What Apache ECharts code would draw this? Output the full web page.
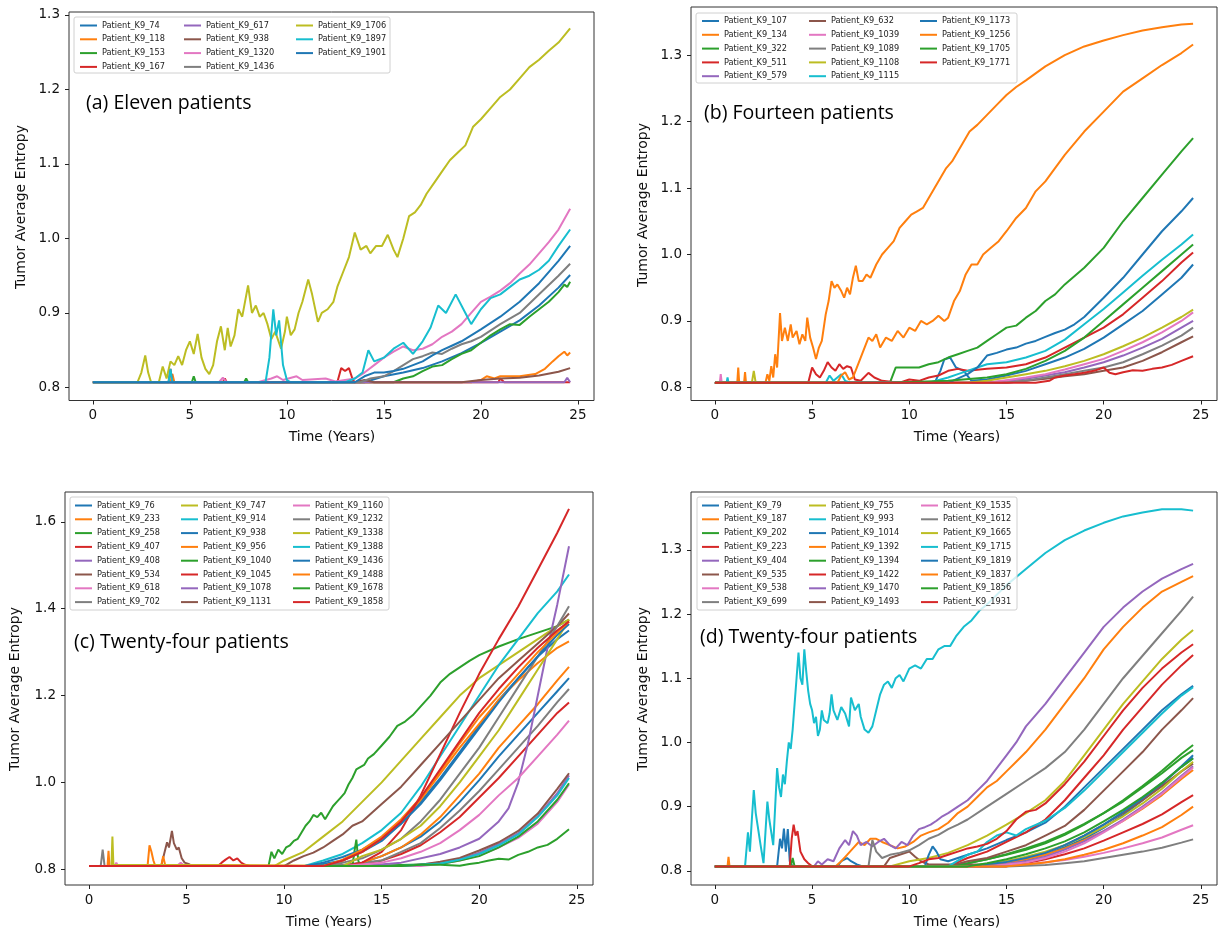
<!DOCTYPE html>
<html>
<head>
<meta charset="utf-8">
<script src="https://cdn.jsdelivr.net/npm/echarts@6/dist/echarts.min.js"></script>
<style>
  html, body { margin: 0; padding: 0; background: #fff; }
  #chart { width: 1219px; height: 931px; }
</style>
</head>
<body>
<div id="chart"></div>
<script>
// ---- data: [time (years), tumor average entropy] ----

// (a) Eleven patients
const namesA = ['Patient_K9_74','Patient_K9_118','Patient_K9_153','Patient_K9_167','Patient_K9_617','Patient_K9_938','Patient_K9_1320','Patient_K9_1436','Patient_K9_1706','Patient_K9_1897','Patient_K9_1901']
const a74 = [[0,.807],[14,.807],[15,.815],[16,.82],[17,.826],[18,.835],[19,.846],[20,.86],[21,.875],[22,.89],[23,.91],[24,.934],[24.6,.951]]
const a118 = [[0,.807],[4.0,.807],[4.1,.818],[4.2,.807],[19.5,.807],[20,.81],[20.3,.815],[20.7,.812],[21,.815],[22,.815],[22.8,.818],[23.3,.825],[23.7,.835],[24,.842],[24.3,.848],[24.45,.843],[24.6,.847]]
const a153 = [[0,.807],[5.1,.807],[5.2,.815],[5.3,.807],[7.8,.807],[7.9,.812],[8.0,.807],[15.5,.807],[16,.812],[16.5,.815],[17,.822],[17.5,.828],[18,.83],[18.5,.838],[19,.845],[19.5,.85],[20,.86],[20.5,.87],[21,.878],[21.5,.885],[22,.884],[22.5,.895],[23,.905],[23.5,.915],[24,.928],[24.3,.938],[24.45,.935],[24.6,.942]]
const a167 = [[0,.807],[3.9,.807],[4.0,.825],[4.1,.807],[6.7,.807],[6.8,.812],[6.9,.807],[12.6,.807],[12.8,.826],[13.0,.822],[13.2,.826],[13.4,.81],[13.5,.807],[20.9,.807],[21,.812],[21.2,.807],[24.6,.807]]
const a617 = [[0,.807],[24.3,.807],[24.45,.813],[24.6,.807]]
const a938 = [[0,.807],[13.5,.807],[14,.81],[14.5,.807],[19,.807],[20,.81],[21,.812],[22,.813],[23,.816],[24,.821],[24.6,.826]]
const a1320 = [[0,.807],[6.5,.807],[6.7,.813],[6.9,.807],[8.5,.807],[9.2,.812],[9.5,.815],[9.8,.81],[10.5,.815],[10.8,.81],[12,.812],[12.5,.808],[13.5,.812],[14,.82],[14.5,.83],[15,.84],[15.5,.848],[16,.855],[16.5,.85],[17,.852],[17.5,.858],[18,.868],[18.5,.875],[19,.885],[19.5,.9],[20,.915],[20.5,.922],[21,.93],[21.5,.94],[22,.953],[22.5,.965],[23,.98],[23.5,.995],[24,1.012],[24.6,1.04]]
const a1436 = [[0,.807],[13.8,.807],[14.3,.812],[15,.815],[15.5,.822],[16,.83],[16.5,.838],[17,.842],[17.5,.847],[18,.845],[18.5,.852],[19,.858],[19.5,.862],[20,.868],[21,.885],[22,.9],[23,.925],[24,.95],[24.6,.966]]
const a1706 = [[0,.807],[2.3,.807],[2.5,.82],[2.7,.843],[2.85,.82],[3.0,.807],[3.4,.807],[3.6,.828],[3.8,.812],[4.0,.835],[4.2,.83],[4.4,.842],[4.6,.83],[4.8,.85],[5.0,.862],[5.2,.845],[5.4,.872],[5.6,.84],[5.8,.825],[6.0,.818],[6.2,.83],[6.4,.862],[6.6,.882],[6.8,.85],[6.95,.88],[7.1,.855],[7.3,.87],[7.5,.905],[7.7,.895],[8.0,.937],[8.2,.9],[8.4,.91],[8.6,.895],[8.8,.9],[9.0,.885],[9.2,.865],[9.4,.875],[9.7,.852],[9.9,.875],[10.0,.895],[10.2,.87],[10.4,.878],[10.6,.9],[10.8,.915],[11.1,.945],[11.3,.925],[11.6,.888],[11.8,.9],[12.1,.905],[12.4,.915],[12.6,.935],[12.9,.955],[13.2,.975],[13.5,1.008],[13.8,.985],[14.1,.99],[14.3,.98],[14.6,.99],[14.9,.99],[15.2,1.005],[15.5,.985],[15.7,.975],[16.0,1.0],[16.3,1.03],[16.6,1.035],[16.9,1.045],[17.2,1.06],[17.6,1.075],[18.0,1.09],[18.4,1.105],[18.8,1.115],[19.2,1.125],[19.6,1.15],[20.0,1.16],[20.5,1.175],[21.0,1.19],[21.5,1.2],[22.0,1.215],[22.5,1.23],[23.0,1.24],[23.5,1.252],[24.0,1.263],[24.6,1.282]]
const a1897 = [[0,.807],[3.9,.807],[4.0,.825],[4.1,.807],[8.9,.807],[9.1,.84],[9.3,.905],[9.45,.87],[9.6,.89],[9.8,.83],[10,.81],[10.2,.807],[13,.807],[13.5,.812],[13.9,.82],[14.2,.85],[14.5,.835],[15,.84],[15.5,.852],[16,.86],[16.5,.845],[17,.862],[17.4,.88],[17.8,.91],[18.2,.9],[18.7,.925],[19.2,.9],[19.5,.885],[20,.905],[20.5,.92],[21,.925],[21.5,.935],[22,.945],[22.5,.95],[23,.958],[23.5,.97],[24,.99],[24.6,1.012]]
const a1901 = [[0,.807],[13.5,.807],[14,.815],[14.5,.82],[15,.82],[15.5,.822],[16,.825],[16.5,.83],[17,.835],[17.5,.843],[18,.85],[18.5,.856],[19,.862],[19.5,.87],[20,.878],[21,.895],[22,.915],[23,.94],[24,.97],[24.6,.99]]

// (b) Fourteen patients
const namesB = ['Patient_K9_107','Patient_K9_134','Patient_K9_322','Patient_K9_511','Patient_K9_579','Patient_K9_632','Patient_K9_1039','Patient_K9_1089','Patient_K9_1108','Patient_K9_1115','Patient_K9_1173','Patient_K9_1256','Patient_K9_1705','Patient_K9_1771']
const b107 = [[0,.807],[11.3,.807],[11.6,.825],[11.8,.842],[12.1,.845],[12.4,.83],[12.8,.825],[13.2,.81],[14,.812],[15,.818],[16,.825],[17,.835],[18,.845],[19,.858],[20,.875],[21,.895],[22,.915],[23,.94],[24,.965],[24.6,.985]]
const b134 = [[0,.807],[1.15,.807],[1.2,.83],[1.25,.807],[1.5,.807],[1.55,.823],[1.6,.807],[2.6,.807],[2.7,.82],[2.8,.81],[2.9,.832],[3.0,.815],[3.1,.85],[3.2,.83],[3.35,.912],[3.45,.87],[3.6,.89],[3.75,.87],[3.9,.895],[4.0,.875],[4.2,.885],[4.35,.865],[4.5,.88],[4.65,.87],[4.75,.905],[4.9,.875],[5.05,.86],[5.2,.843],[5.35,.86],[5.5,.87],[5.7,.91],[5.85,.93],[6.0,.96],[6.15,.95],[6.3,.955],[6.5,.945],[6.65,.935],[6.8,.95],[6.95,.94],[7.1,.965],[7.25,.983],[7.4,.96],[7.6,.96],[7.8,.97],[8.0,.965],[8.3,.985],[8.6,1.0],[8.9,1.01],[9.2,1.02],[9.5,1.04],[9.8,1.05],[10.1,1.06],[10.4,1.065],[10.7,1.07],[11.0,1.085],[11.3,1.1],[11.6,1.115],[11.9,1.13],[12.2,1.14],[12.5,1.155],[12.8,1.17],[13.1,1.185],[13.5,1.195],[14,1.21],[14.5,1.225],[15,1.24],[15.5,1.252],[16,1.262],[17,1.283],[18,1.3],[19,1.313],[20,1.322],[21,1.33],[22,1.337],[23,1.342],[24,1.346],[24.6,1.347]]
const b322 = [[0,.807],[9.0,.807],[9.3,.83],[9.6,.83],[10,.83],[10.5,.83],[11,.835],[11.5,.838],[12,.845],[12.5,.85],[13,.855],[13.5,.86],[14,.87],[14.5,.88],[15,.89],[15.5,.893],[16,.905],[16.5,.915],[17,.93],[17.5,.94],[18,.955],[19,.98],[20,1.01],[21,1.05],[22,1.085],[23,1.12],[24,1.155],[24.6,1.175]]
const b511 = [[0,.807],[4.8,.807],[5.0,.83],[5.2,.82],[5.4,.815],[5.6,.825],[5.8,.838],[6.0,.83],[6.2,.825],[6.4,.835],[6.6,.828],[6.8,.832],[7.0,.83],[7.2,.812],[7.5,.81],[7.9,.822],[8.2,.815],[8.6,.81],[9.5,.807],[10,.812],[10.5,.81],[11,.815],[11.5,.818],[12,.825],[12.5,.828],[13,.825],[14,.828],[15,.83],[16,.835],[17,.845],[18,.86],[19,.875],[20,.89],[21,.91],[22,.935],[23,.96],[24,.988],[24.6,1.003]]
const b579 = [[0,.807],[14,.807],[15,.81],[16,.813],[17,.818],[18,.823],[19,.83],[20,.838],[21,.848],[22,.86],[23,.873],[24,.89],[24.6,.9]]
const b632 = [[0,.807],[15,.807],[16,.81],[17,.813],[18,.817],[19,.82],[20,.825],[21,.83],[22,.84],[23,.853],[24,.868],[24.6,.877]]
const b1039 = [[0,.807],[0.25,.807],[0.3,.82],[0.35,.807],[14,.807],[15,.811],[16,.815],[17,.82],[18,.827],[19,.835],[20,.843],[21,.855],[22,.868],[23,.883],[24,.9],[24.6,.913]]
const b1089 = [[0,.807],[15,.807],[16,.81],[17,.815],[18,.82],[19,.825],[20,.83],[21,.838],[22,.85],[23,.863],[24,.878],[24.6,.89]]
const b1108 = [[0,.807],[1.9,.807],[2.0,.825],[2.1,.807],[13,.807],[14,.81],[15,.815],[16,.82],[17,.825],[18,.832],[19,.84],[20,.85],[21,.862],[22,.875],[23,.89],[24,.906],[24.6,.917]]
const b1115 = [[0,.807],[0.6,.807],[0.65,.815],[0.7,.807],[5.7,.807],[5.9,.818],[6.1,.81],[6.5,.82],[6.7,.81],[7,.807],[11,.807],[12,.815],[12.5,.82],[13,.825],[13.5,.83],[14,.835],[15,.838],[16,.845],[17,.855],[18,.872],[19,.895],[20,.918],[21,.943],[22,.968],[23,.992],[24,1.015],[24.6,1.03]]
const b1173 = [[0,.807],[12,.807],[13,.82],[13.5,.83],[14,.848],[14.5,.852],[15,.857],[15.5,.86],[16,.866],[16.5,.87],[17,.876],[17.5,.882],[18,.887],[18.5,.895],[19,.906],[20,.935],[21,.965],[22,1.0],[23,1.035],[24,1.065],[24.6,1.085]]
const b1256 = [[0,.807],[6.3,.807],[6.5,.818],[6.7,.823],[6.9,.812],[7.1,.815],[7.3,.83],[7.5,.845],[7.7,.86],[7.9,.875],[8.1,.87],[8.3,.88],[8.5,.86],[8.8,.875],[9.1,.87],[9.4,.885],[9.7,.875],[10,.89],[10.3,.885],[10.6,.9],[10.9,.895],[11.2,.9],[11.5,.908],[11.8,.9],[12.0,.905],[12.3,.93],[12.6,.945],[12.9,.97],[13.2,.985],[13.5,.985],[13.8,1.0],[14.2,1.01],[14.6,1.02],[15.0,1.035],[15.5,1.055],[16,1.07],[16.5,1.095],[17,1.11],[17.5,1.13],[18,1.15],[19,1.185],[20,1.215],[21,1.245],[22,1.265],[23,1.285],[24,1.303],[24.6,1.316]]
const b1705 = [[0,.807],[9,.807],[12,.81],[14,.815],[15,.82],[16,.828],[17,.84],[18,.855],[19,.875],[20,.9],[21,.925],[22,.95],[23,.975],[24,1.0],[24.6,1.015]]
const b1771 = [[0,.807],[16.5,.807],[17.2,.81],[17.5,.815],[18,.818],[18.5,.82],[19,.822],[19.5,.825],[20,.83],[20.3,.822],[20.6,.82],[21,.823],[21.5,.826],[22,.825],[22.5,.828],[23,.83],[23.5,.834],[24,.84],[24.6,.847]]

// (c) Twenty-four patients
const namesC = ['Patient_K9_76','Patient_K9_233','Patient_K9_258','Patient_K9_407','Patient_K9_408','Patient_K9_534','Patient_K9_618','Patient_K9_702','Patient_K9_747','Patient_K9_914','Patient_K9_938','Patient_K9_956','Patient_K9_1040','Patient_K9_1045','Patient_K9_1078','Patient_K9_1131','Patient_K9_1160','Patient_K9_1232','Patient_K9_1338','Patient_K9_1388','Patient_K9_1436','Patient_K9_1488','Patient_K9_1678','Patient_K9_1858']
const c76 = [[0,.807],[11,.807],[12,.812],[13,.82],[14,.84],[15,.865],[16,.905],[17,.955],[18,1.01],[19,1.07],[20,1.13],[21,1.19],[22,1.24],[23,1.29],[24,1.33],[24.6,1.35]]
const c233 = [[0,.807],[0.95,.807],[1.0,.842],[1.05,.807],[12,.807],[13,.82],[14,.84],[15,.87],[16,.91],[17,.96],[18,1.02],[19,1.08],[20,1.135],[21,1.19],[22,1.235],[23,1.275],[24,1.31],[24.6,1.325]]
const c258 = [[0,.807],[9.2,.807],[9.35,.84],[9.5,.825],[9.7,.845],[9.9,.835],[10.1,.85],[10.3,.855],[10.5,.865],[10.7,.87],[10.9,.885],[11.1,.9],[11.3,.91],[11.5,.925],[11.7,.92],[11.9,.93],[12.1,.915],[12.3,.93],[12.5,.945],[12.7,.955],[12.9,.965],[13.1,.975],[13.3,.995],[13.5,1.01],[13.7,1.03],[13.9,1.035],[14.1,1.04],[14.3,1.055],[14.6,1.065],[15.0,1.085],[15.4,1.105],[15.8,1.13],[16.2,1.14],[16.6,1.155],[17,1.175],[17.5,1.2],[18,1.23],[18.5,1.25],[19,1.265],[19.5,1.28],[20,1.293],[21,1.313],[22,1.33],[23,1.345],[24,1.36],[24.6,1.375]]
const c407 = [[0,.807],[6.6,.807],[6.8,.815],[7.0,.822],[7.2,.828],[7.4,.82],[7.6,.825],[7.8,.815],[8.0,.81],[8.3,.807],[13,.807],[14,.812],[15,.82],[16,.835],[17,.855],[18,.885],[19,.92],[20,.965],[21,1.01],[22,1.06],[23,1.11],[24,1.16],[24.6,1.184]]
const c408 = [[0,.807],[16,.807],[18,.815],[19,.823],[20,.838],[21,.858],[22,.883],[23,.922],[24,.975],[24.6,1.016]]
const c534 = [[0,.807],[3.7,.807],[3.85,.835],[4.0,.862],[4.1,.85],[4.25,.888],[4.35,.86],[4.5,.845],[4.6,.85],[4.75,.825],[4.9,.815],[5.1,.812],[5.3,.807],[16,.807],[17,.81],[18,.817],[19,.826],[20,.843],[21,.862],[22,.888],[23,.928],[24,.985],[24.6,1.021]]
const c618 = [[0,.807],[1.3,.807],[1.4,.815],[1.5,.807],[4.5,.807],[4.7,.815],[4.9,.807],[17,.807],[18,.812],[19,.82],[20,.832],[21,.85],[22,.872],[23,.905],[24,.955],[24.6,.995]]
const c702 = [[0,.807],[0.6,.807],[0.7,.845],[0.8,.807],[12,.807],[13,.81],[14,.815],[15,.82],[16,.84],[17,.86],[18,.895],[19,.935],[20,.98],[21,1.03],[22,1.08],[23,1.13],[24,1.185],[24.6,1.215]]
const c747 = [[0,.807],[9.5,.807],[10,.82],[11,.84],[12,.875],[13,.91],[14,.955],[15,1.0],[16,1.05],[17,1.1],[18,1.15],[19,1.2],[20,1.24],[21,1.27],[22,1.3],[23,1.33],[24,1.36],[24.6,1.375]]
const c914 = [[0,.807],[11,.807],[12,.82],[13,.835],[14,.86],[15,.89],[16,.93],[17,.99],[18,1.06],[19,1.13],[20,1.2],[21,1.27],[22,1.33],[23,1.39],[24,1.44],[24.6,1.479]]
const c938 = [[0,.807],[13,.807],[14,.815],[15,.83],[16,.85],[17,.875],[18,.91],[19,.955],[20,1.005],[21,1.06],[22,1.11],[23,1.16],[24,1.21],[24.6,1.24]]
const c956 = [[0,.807],[3.0,.807],[3.1,.855],[3.2,.84],[3.3,.82],[3.4,.807],[3.7,.807],[3.8,.83],[3.9,.81],[4.0,.807],[13,.807],[14,.815],[15,.83],[16,.85],[17,.88],[18,.92],[19,.97],[20,1.02],[21,1.08],[22,1.13],[23,1.18],[24,1.235],[24.6,1.266]]
const c1040 = [[0,.807],[13.5,.807],[13.6,.84],[13.7,.868],[13.8,.82],[13.9,.807],[18,.812],[19,.82],[20,.83],[21,.85],[22,.875],[23,.91],[24,.96],[24.6,.998]]
const c1045 = [[0,.807],[13,.807],[14,.815],[15,.84],[16,.89],[17,.97],[18,1.065],[19,1.16],[20,1.25],[21,1.33],[22,1.405],[23,1.49],[24,1.575],[24.6,1.63]]
const c1078 = [[0,.807],[14,.807],[16,.815],[18,.835],[19,.85],[20,.87],[21,.91],[21.5,.94],[22,1.0],[22.5,1.09],[23,1.2],[23.5,1.31],[24,1.41],[24.6,1.544]]
const c1131 = [[0,.807],[10,.807],[10.5,.82],[11,.83],[11.5,.838],[12,.85],[12.5,.865],[13,.88],[13.5,.9],[14,.91],[14.5,.93],[15,.95],[16,.99],[17,1.04],[18,1.09],[19,1.14],[20,1.19],[21,1.24],[22,1.28],[23,1.32],[24,1.36],[24.6,1.389]]
const c1160 = [[0,.807],[13,.807],[15,.815],[16,.825],[17,.84],[18,.86],[19,.89],[20,.925],[21,.97],[22,1.01],[23,1.06],[24,1.11],[24.6,1.142]]
const c1232 = [[0,.807],[12,.807],[13,.815],[14,.825],[15,.845],[16,.87],[17,.91],[18,.96],[19,1.02],[20,1.08],[21,1.15],[22,1.22],[23,1.29],[24,1.36],[24.6,1.406]]
const c1338 = [[0,.807],[1.15,.807],[1.2,.875],[1.25,.81],[1.3,.807],[13,.807],[14,.83],[15,.845],[16,.87],[17,.9],[18,.945],[19,1.0],[20,1.06],[21,1.12],[22,1.19],[23,1.26],[24,1.33],[24.6,1.375]]
const c1388 = [[0,.807],[16,.807],[18,.813],[19,.822],[20,.835],[21,.855],[22,.88],[23,.92],[24,.97],[24.6,1.01]]
const c1436 = [[0,.807],[11,.807],[12,.815],[13,.828],[14,.845],[15,.87],[16,.905],[17,.95],[18,1.005],[19,1.065],[20,1.125],[21,1.185],[22,1.24],[23,1.29],[24,1.34],[24.6,1.365]]
const c1488 = [[0,.807],[12,.807],[13,.822],[14,.845],[15,.875],[16,.915],[17,.965],[18,1.025],[19,1.09],[20,1.15],[21,1.2],[22,1.25],[23,1.3],[24,1.345],[24.6,1.37]]
const c1678 = [[0,.807],[16,.807],[17,.81],[18,.81],[19,.808],[19.5,.812],[20,.815],[20.5,.82],[21,.824],[21.5,.822],[22,.833],[22.5,.84],[23,.85],[23.5,.856],[24,.87],[24.6,.892]]
const c1858 = [[0,.807],[12,.807],[13,.82],[14,.84],[15,.87],[16,.91],[17,.965],[18,1.03],[19,1.095],[20,1.16],[21,1.215],[22,1.265],[23,1.31],[24,1.35],[24.6,1.371]]

// (d) Twenty-four patients
const namesD = ['Patient_K9_79','Patient_K9_187','Patient_K9_202','Patient_K9_223','Patient_K9_404','Patient_K9_535','Patient_K9_538','Patient_K9_699','Patient_K9_755','Patient_K9_993','Patient_K9_1014','Patient_K9_1392','Patient_K9_1394','Patient_K9_1422','Patient_K9_1470','Patient_K9_1493','Patient_K9_1535','Patient_K9_1612','Patient_K9_1665','Patient_K9_1715','Patient_K9_1819','Patient_K9_1837','Patient_K9_1856','Patient_K9_1931']
const d79 = [[0,.807],[3.2,.807],[3.35,.85],[3.45,.835],[3.55,.866],[3.65,.83],[3.75,.865],[3.85,.815],[4.0,.807],[6.3,.807],[6.5,.815],[6.8,.82],[7.0,.815],[7.3,.81],[7.6,.807],[13,.807],[15,.812],[16,.817],[17,.825],[18,.837],[19,.85],[20,.867],[21,.887],[22,.91],[23,.935],[24,.963],[24.6,.98]]
const d187 = [[0,.807],[0.65,.807],[0.7,.822],[0.75,.807],[6.2,.807],[6.5,.815],[6.8,.825],[7.1,.835],[7.4,.845],[7.7,.84],[8.0,.85],[8.3,.85],[8.6,.845],[9,.84],[9.4,.835],[9.8,.838],[10.2,.845],[10.6,.855],[11,.86],[11.5,.865],[12,.875],[12.5,.89],[13,.9],[13.5,.915],[14,.93],[14.5,.94],[15,.955],[15.5,.97],[16,.985],[17,1.02],[18,1.06],[19,1.1],[20,1.145],[21,1.18],[22,1.21],[23,1.235],[24,1.25],[24.6,1.259]]
const d202 = [[0,.807],[3.9,.807],[4.0,.82],[4.1,.807],[12,.807],[13,.812],[14,.818],[15,.825],[16,.833],[17,.843],[18,.856],[19,.872],[20,.89],[21,.91],[22,.932],[23,.956],[24,.982],[24.6,.996]]
const d223 = [[0,.807],[3.85,.807],[3.95,.85],[4.05,.872],[4.15,.855],[4.25,.862],[4.4,.83],[4.6,.818],[4.8,.812],[5.0,.807],[15,.807],[16,.812],[17,.818],[18,.826],[19,.835],[20,.847],[21,.86],[22,.873],[23,.888],[24,.907],[24.6,.918]]
const d404 = [[0,.807],[5.1,.807],[5.3,.815],[5.5,.81],[5.8,.818],[6.1,.815],[6.4,.835],[6.7,.848],[6.9,.84],[7.1,.862],[7.3,.855],[7.5,.84],[7.8,.845],[8.1,.838],[8.4,.845],[8.7,.85],[9.0,.84],[9.3,.835],[9.6,.845],[9.9,.84],[10.2,.855],[10.5,.865],[10.8,.868],[11.1,.872],[11.4,.878],[11.7,.885],[12,.89],[12.5,.9],[13,.91],[13.5,.925],[14,.94],[14.5,.96],[15,.98],[15.5,1.0],[16,1.025],[17,1.06],[18,1.1],[19,1.14],[20,1.18],[21,1.21],[22,1.235],[23,1.255],[24,1.27],[24.6,1.278]]
const d535 = [[0,.807],[8.7,.807],[9.0,.82],[9.5,.825],[10,.83],[10.3,.822],[10.6,.815],[11,.81],[14,.81],[16,.82],[17,.828],[18,.84],[19,.855],[20,.872],[21,.89],[22,.91],[23,.932],[24,.955],[24.6,.967]]
const d538 = [[0,.807],[14,.807],[16,.81],[18,.817],[19,.822],[20,.828],[21,.835],[22,.843],[23,.852],[24,.864],[24.6,.871]]
const d699 = [[0,.807],[7.9,.807],[8.1,.848],[8.3,.83],[8.6,.82],[9,.825],[9.5,.828],[10,.832],[10.5,.84],[11,.85],[11.5,.856],[12,.865],[12.5,.872],[13,.88],[14,.9],[15,.92],[16,.94],[17,.96],[18,.985],[19,1.02],[20,1.06],[21,1.1],[22,1.135],[23,1.17],[24,1.205],[24.6,1.227]]
const d755 = [[0,.807],[9,.807],[10,.815],[11,.82],[12,.828],[13,.84],[14,.855],[15,.872],[16,.89],[17,.91],[18,.94],[19,.98],[20,1.02],[21,1.06],[22,1.095],[23,1.13],[24,1.16],[24.6,1.175]]
const d993 = [[0,.807],[1.55,.807],[1.7,.86],[1.8,.83],[1.9,.88],[2.0,.926],[2.1,.89],[2.2,.87],[2.35,.84],[2.5,.812],[2.6,.86],[2.7,.908],[2.8,.88],[2.9,.86],[3.0,.84],[3.1,.9],[3.2,.96],[3.3,.93],[3.4,.915],[3.5,.95],[3.6,.935],[3.7,.97],[3.8,1.0],[3.9,.99],[4.0,1.02],[4.1,1.06],[4.2,1.1],[4.3,1.14],[4.4,1.1],[4.5,1.09],[4.6,1.145],[4.7,1.11],[4.8,1.08],[4.9,1.06],[5.0,1.05],[5.1,1.03],[5.2,1.04],[5.3,1.01],[5.4,1.02],[5.5,1.05],[5.6,1.035],[5.8,1.03],[5.9,1.045],[6.0,1.075],[6.1,1.05],[6.3,1.035],[6.5,1.055],[6.7,1.045],[6.9,1.025],[7.0,1.07],[7.2,1.05],[7.4,1.06],[7.5,1.04],[7.7,1.02],[7.9,1.015],[8.1,1.025],[8.3,1.05],[8.5,1.075],[8.7,1.09],[8.9,1.095],[9.1,1.085],[9.3,1.1],[9.5,1.105],[9.7,1.095],[10.0,1.115],[10.3,1.12],[10.6,1.115],[10.9,1.13],[11.2,1.13],[11.5,1.145],[11.8,1.15],[12.1,1.15],[12.4,1.165],[12.8,1.18],[13.2,1.19],[13.6,1.205],[14,1.215],[14.5,1.23],[15,1.245],[16,1.27],[17,1.295],[18,1.315],[19,1.33],[20,1.342],[21,1.352],[22,1.358],[23,1.363],[24,1.363],[24.6,1.361]]
const d1014 = [[0,.807],[10.8,.807],[11.0,.825],[11.2,.838],[11.4,.83],[11.6,.818],[12,.815],[13,.825],[14,.835],[15,.848],[16,.86],[17,.875],[18,.9],[19,.93],[20,.96],[21,.99],[22,1.02],[23,1.05],[24,1.075],[24.6,1.088]]
const d1392 = [[0,.807],[13,.807],[15,.812],[16,.818],[17,.825],[18,.835],[19,.848],[20,.862],[21,.878],[22,.897],[23,.918],[24,.943],[24.6,.957]]
const d1394 = [[0,.807],[12,.807],[13,.812],[14,.818],[15,.826],[16,.835],[17,.845],[18,.858],[19,.873],[20,.89],[21,.908],[22,.93],[23,.952],[24,.976],[24.6,.988]]
const d1422 = [[0,.807],[12,.807],[13,.82],[14,.83],[15,.845],[16,.86],[17,.88],[18,.91],[19,.945],[20,.98],[21,1.02],[22,1.055],[23,1.09],[24,1.12],[24.6,1.136]]
const d1470 = [[0,.807],[14,.807],[16,.815],[17,.822],[18,.833],[19,.846],[20,.862],[21,.88],[22,.9],[23,.922],[24,.948],[24.6,.963]]
const d1493 = [[0,.807],[12,.807],[13,.815],[14,.82],[15,.83],[16,.84],[17,.855],[18,.87],[19,.895],[20,.925],[21,.955],[22,.985],[23,1.02],[24,1.05],[24.6,1.069]]
const d1535 = [[0,.807],[14,.807],[16,.813],[17,.82],[18,.83],[19,.843],[20,.86],[21,.878],[22,.898],[23,.92],[24,.946],[24.6,.961]]
const d1612 = [[0,.807],[15,.807],[17,.809],[18,.812],[19,.815],[20,.82],[21,.825],[22,.83],[23,.836],[24,.844],[24.6,.849]]
const d1665 = [[0,.807],[13,.807],[15,.815],[16,.822],[17,.83],[18,.84],[19,.853],[20,.868],[21,.885],[22,.905],[23,.928],[24,.955],[24.6,.97]]
const d1715 = [[0,.807],[12,.807],[13,.825],[13.5,.83],[14,.845],[14.5,.855],[15,.86],[15.5,.855],[16,.865],[17,.878],[18,.898],[19,.925],[20,.955],[21,.985],[22,1.015],[23,1.045],[24,1.073],[24.6,1.086]]
const d1819 = [[0,.807],[13,.807],[15,.814],[16,.82],[17,.828],[18,.84],[19,.855],[20,.872],[21,.892],[22,.913],[23,.937],[24,.962],[24.6,.976]]
const d1837 = [[0,.807],[15,.807],[16,.81],[17,.813],[18,.818],[19,.825],[20,.833],[21,.843],[22,.855],[23,.868],[24,.887],[24.6,.9]]
const d1856 = [[0,.807],[13,.807],[14,.812],[15,.818],[16,.826],[17,.835],[18,.846],[19,.86],[20,.877],[21,.895],[22,.915],[23,.937],[24,.962],[24.6,.975]]
const d1931 = [[0,.807],[10,.807],[10.5,.812],[11,.818],[11.5,.82],[12,.825],[12.5,.83],[13,.835],[13.5,.838],[14,.842],[14.5,.85],[15,.862],[15.5,.88],[16,.892],[16.5,.895],[17,.905],[18,.935],[19,.97],[20,1.01],[21,1.05],[22,1.085],[23,1.115],[24,1.14],[24.6,1.153]]

// tick labels
const xTicks = [0, 5, 10, 15, 20, 25]
const yTicksTop = [0.8, 0.9, 1.0, 1.1, 1.2, 1.3]
const yTicksC = [0.8, 1.0, 1.2, 1.4, 1.6]
const panelTitles = ['(a) Eleven patients', '(b) Fourteen patients', '(c) Twenty-four patients', '(d) Twenty-four patients']

// matplotlib tab10 cycle
const palette = ['#1f77b4','#ff7f0e','#2ca02c','#d62728','#9467bd','#8c564b','#e377c2','#7f7f7f','#bcbd22','#17becf']

// layout of each subplot (pixels)
const panels = [
  { names: namesA, data: [a74,a118,a153,a167,a617,a938,a1320,a1436,a1706,a1897,a1901],
    grid: {left: 69, top: 12, width: 525, height: 388.5}, yMin: 0.7825, yMax: 1.304, yTicks: yTicksTop,
    rows: 4, legendX: [80, 184, 296], legendY: 25.5, box: [74, 17, 316, 56],
    yTitle: [21.5, 207], xTitle: [332, 437], tag: [86, 103] },
  { names: namesB, data: [b107,b134,b322,b511,b579,b632,b1039,b1089,b1108,b1115,b1173,b1256,b1705,b1771],
    grid: {left: 691, top: 7, width: 526, height: 393.5}, yMin: 0.7804, yMax: 1.3723, yTicks: yTicksTop,
    rows: 5, legendX: [702, 809, 920], legendY: 21, box: [696, 13, 321, 70],
    yTitle: [643, 205], xTitle: [957, 437], tag: [704, 113] },
  { names: namesC, data: [c76,c233,c258,c407,c408,c534,c618,c702,c747,c914,c938,c956,c1040,c1045,c1078,c1131,c1160,c1232,c1338,c1388,c1436,c1488,c1678,c1858],
    grid: {left: 65, top: 492, width: 528, height: 393}, yMin: 0.7635, yMax: 1.669, yTicks: yTicksC,
    rows: 8, legendX: [75, 181, 293], legendY: 505.5, box: [70, 497, 319, 113],
    yTitle: [15, 689], xTitle: [329, 922], tag: [74, 642] },
  { names: namesD, data: [d79,d187,d202,d223,d404,d535,d538,d699,d755,d993,d1014,d1392,d1394,d1422,d1470,d1493,d1535,d1612,d1665,d1715,d1819,d1837,d1856,d1931],
    grid: {left: 691, top: 492, width: 526, height: 393}, yMin: 0.778, yMax: 1.39, yTicks: yTicksTop,
    rows: 8, legendX: [702, 809, 921], legendY: 505.5, box: [697, 497, 320, 113],
    yTitle: [643, 689], xTitle: [957, 922], tag: [700, 637] }
]

const rowPitch = 13.8
const textColor = '#111'

var grids = [], xAxes = [], yAxes = [], series = [], legends = [], graphics = []

panels.forEach(function (p, pi) {
  grids.push(Object.assign({show: true, borderColor: '#333', borderWidth: 1, containLabel: false}, p.grid))

  xAxes.push({
    type: 'value', gridIndex: pi, min: -1.23, max: 25.83,
    axisLine: {show: false, onZero: false}, splitLine: {show: false},
    axisTick: {show: true, length: 4, customValues: xTicks, lineStyle: {color: '#222'}},
    axisLabel: {customValues: xTicks, formatter: function (v) { return String(v) }, margin: 8,
      fontFamily: 'DejaVu Sans', fontSize: 13.5, color: textColor}
  })
  yAxes.push({
    type: 'value', gridIndex: pi, min: p.yMin, max: p.yMax,
    axisLine: {show: false, onZero: false}, splitLine: {show: false},
    axisTick: {show: true, length: 4, customValues: p.yTicks, lineStyle: {color: '#222'}},
    axisLabel: {customValues: p.yTicks, formatter: function (v) { return v.toFixed(1) }, margin: 9,
      fontFamily: 'DejaVu Sans', fontSize: 13.5, color: textColor}
  })

  p.names.forEach(function (name, i) {
    var color = palette[i % 10]
    series.push({
      type: 'line', name: name, xAxisIndex: pi, yAxisIndex: pi,
      data: p.data[i], showSymbol: false, symbol: 'none', silent: true,
      lineStyle: {width: 2, color: color}, itemStyle: {color: color}, z: 2
    })
  })

  // three legend columns, filled top to bottom like matplotlib ncol=3
  for (var c = 0; c < 3; c++) {
    var items = p.names.slice(c * p.rows, (c + 1) * p.rows).map(function (n, k) {
      return {name: n, itemStyle: {color: palette[(c * p.rows + k) % 10]}}
    })
    legends.push({
      data: items, orient: 'vertical', left: p.legendX[c], top: p.legendY - rowPitch / 2,
      padding: 0, itemGap: 0, itemWidth: 17, itemHeight: 2, icon: 'rect',
      selectedMode: false, z: 5,
      textStyle: {fontFamily: 'DejaVu Sans', fontSize: 8.2, lineHeight: rowPitch, color: '#222'}
    })
  }

  graphics.push({
    type: 'rect', z: 3, silent: true,
    shape: {x: p.box[0], y: p.box[1], width: p.box[2], height: p.box[3], r: 2},
    style: {fill: 'rgba(255,255,255,0.8)', stroke: '#d0d0d0', lineWidth: 1}
  })
  graphics.push({
    type: 'text', x: p.tag[0], y: p.tag[1], z: 3, silent: true,
    style: {text: panelTitles[pi], font: '19.5px "Open Sans"', fill: '#000', textVerticalAlign: 'middle'}
  })
  graphics.push({
    type: 'text', x: p.yTitle[0], y: p.yTitle[1], rotation: Math.PI / 2, z: 3, silent: true,
    style: {text: 'Tumor Average Entropy', font: '14px "DejaVu Sans"', fill: textColor,
      textAlign: 'center', textVerticalAlign: 'middle'}
  })
  graphics.push({
    type: 'text', x: p.xTitle[0], y: p.xTitle[1], z: 3, silent: true,
    style: {text: 'Time (Years)', font: '14px "DejaVu Sans"', fill: textColor,
      textAlign: 'center', textVerticalAlign: 'middle'}
  })
})

var chart = echarts.init(document.getElementById('chart'), null, {renderer: 'canvas'})
chart.setOption({
  animation: false,
  backgroundColor: '#fff',
  grid: grids,
  xAxis: xAxes,
  yAxis: yAxes,
  legend: legends,
  series: series,
  graphic: graphics
})
</script>
</body>
</html>
